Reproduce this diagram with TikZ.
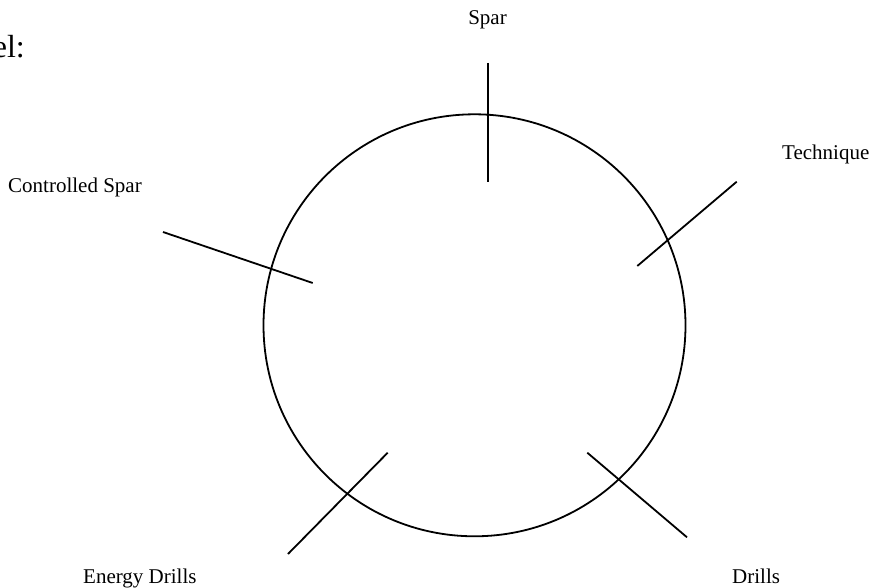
\documentclass[tikz,border=0pt]{standalone}
\usepackage{fontspec}
\setmainfont{Liberation Serif}
\usepackage{tikz}
\usetikzlibrary{positioning}
\tikzset{
  lbl/.style={inner sep=0pt, font=\fontsize{21}{25}\selectfont},
  big/.style={inner sep=0pt, font=\fontsize{32}{38}\selectfont},
  wheel/.style={circle, draw, line width=1.8pt, minimum size=422pt, inner sep=0pt},
  spoke/.style={line width=1.8pt}
}
\begin{document}
\begin{tikzpicture}[x=1pt, y=-1pt]
\useasboundingbox (0,0) rectangle (872,588);

\node[big, anchor=base east] (head) at (25,58) {el:};
\node[wheel] (ring) at (474.5,325.3) {};

% labels
\node[lbl, anchor=base] (spar) at (487.5,25) {Spar};
\node[lbl, anchor=base west] (tech) at (782,160) {Technique};
\node[lbl, anchor=base west] (cspar) at (8,193) {Controlled Spar};
\node[lbl, anchor=base west] (edrill) at (83,583) {Energy Drills};
\node[lbl, anchor=base west] (drill) at (732,583) {Drills};

% spoke ends
\coordinate (sparA) at (487.7,63);   \coordinate (sparB) at (487.7,182);
\coordinate (techA) at (736.7,181.7); \coordinate (techB) at (637.3,266);
\coordinate (cspA) at (163,232);     \coordinate (cspB) at (312.7,283);
\coordinate (edA) at (387.7,452.7);  \coordinate (edB) at (288,554);
\coordinate (drA) at (587.3,452.7);  \coordinate (drB) at (687,537.3);

\draw[spoke] (sparA) -- (sparB);
\draw[spoke] (techA) -- (techB);
\draw[spoke] (cspA) -- (cspB);
\draw[spoke] (edA) -- (edB);
\draw[spoke] (drA) -- (drB);
\end{tikzpicture}
\end{document}
